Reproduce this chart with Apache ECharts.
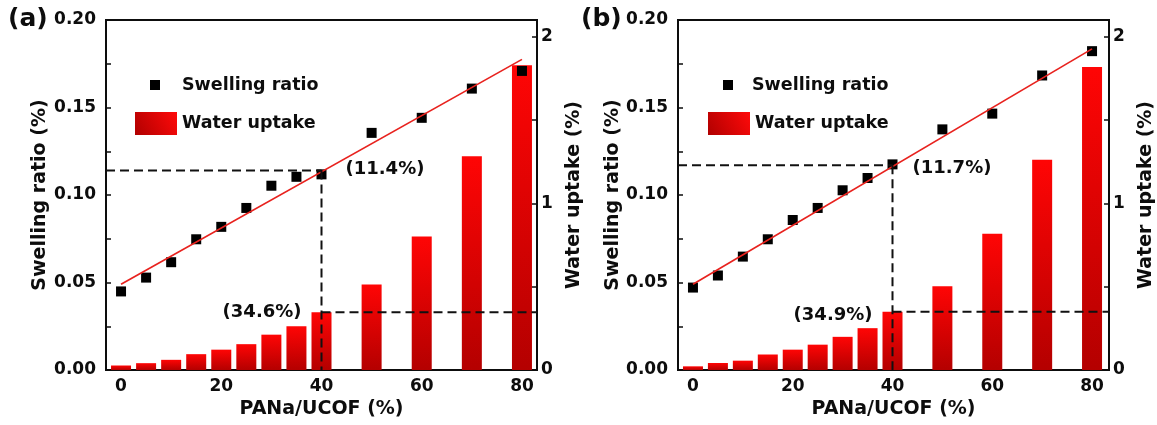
<!DOCTYPE html>
<html>
<head>
<meta charset="utf-8">
<script src="https://cdn.jsdelivr.net/npm/echarts@6/dist/echarts.min.js"></script>
<style>
html,body{margin:0;padding:0;background:#fff;}
#c{width:1157px;height:425px;}
</style>
</head>
<body>
<div id="c"></div>
<script>
// ---- data ----
const xVals = [0, 5, 10, 15, 20, 25, 30, 35, 40, 50, 60, 70, 80];
const swellA = [0.0449, 0.0528, 0.0616, 0.0747, 0.0818, 0.0926, 0.1053, 0.1104, 0.1118, 0.1355, 0.1441, 0.1608, 0.1709];
const uptakeA = [0.027, 0.041, 0.061, 0.095, 0.122, 0.155, 0.212, 0.262, 0.346, 0.513, 0.801, 1.282, 1.828];
const swellB = [0.0471, 0.0540, 0.0648, 0.0747, 0.0857, 0.0926, 0.1027, 0.1097, 0.1175, 0.1375, 0.1465, 0.1683, 0.1822];
const uptakeB = [0.022, 0.042, 0.056, 0.093, 0.122, 0.152, 0.199, 0.251, 0.349, 0.502, 0.818, 1.262, 1.818];
const fitX = [0, 80];
const fitA = [0.049, 0.1775];
const fitB = [0.049, 0.1835];
const markX = 40;
const swellMarkA = 0.114, uptakeMarkA = 0.346;
const swellMarkB = 0.117, uptakeMarkB = 0.349;
const xTicks = [0, 20, 40, 60, 80];
const leftTicks = [0, 0.025, 0.05, 0.075, 0.1, 0.125, 0.15, 0.175, 0.2];
const rightLabels = [0, 1, 2];
const rightTicks = [0, 0.5, 1, 1.5, 2];
const panelLabels = ['(a)', '(b)'];

const FONT = '"DejaVu Sans", Verdana, sans-serif';
const INK = '#0d0d0d';
const chart = echarts.init(document.getElementById('c'), null, {renderer: 'canvas'});

const barColor = new echarts.graphic.LinearGradient(0, 0, 0, 1, [
  {offset: 0, color: '#ff0505'},
  {offset: 1, color: '#b40000'}
]);
const legendColor = new echarts.graphic.LinearGradient(1, 0, 0, 1, [
  {offset: 0, color: '#ff0a0a'},
  {offset: 1, color: '#b00000'}
]);

const grids = [
  {left: 106, top: 20, width: 431, height: 350},
  {left: 678, top: 20, width: 433, height: 350}
];
const xRange = [[-3, 83], [-3, 83.4]];

function pairs(xs, ys) { return xs.map((x, i) => [x, ys[i]]); }

const xAxis = [], yAxis = [], series = [], legend = [], title = [];
const panels = [
  {swell: swellA, uptake: uptakeA, fit: fitA, sm: swellMarkA, um: uptakeMarkA},
  {swell: swellB, uptake: uptakeB, fit: fitB, sm: swellMarkB, um: uptakeMarkB}
];
const axisLineStyle = {show: true, onZero: false, lineStyle: {color: INK, width: 2}};

panels.forEach((p, k) => {
  xAxis.push({
    type: 'value', gridIndex: k, min: xRange[k][0], max: xRange[k][1],
    name: 'PANa/UCOF (%)', nameLocation: 'middle', nameGap: 30,
    nameTextStyle: {fontFamily: FONT, fontWeight: 'bold', fontSize: 19, color: INK},
    axisLine: axisLineStyle,
    axisTick: {show: false},
    splitLine: {show: false},
    axisLabel: {customValues: xTicks, margin: 8, fontFamily: FONT, fontWeight: 'bold', fontSize: 17, color: INK}
  });
  yAxis.push({
    type: 'value', gridIndex: k, position: 'left', min: 0, max: 0.2, interval: 0.05,
    name: 'Swelling ratio (%)', nameLocation: 'middle', nameGap: k === 0 ? 56 : 54, nameRotate: 90,
    nameTextStyle: {fontFamily: FONT, fontWeight: 'bold', fontSize: 19, color: INK},
    axisLine: axisLineStyle,
    axisTick: {show: true, inside: true, length: 5, customValues: leftTicks, lineStyle: {color: INK, width: 1.5}},
    splitLine: {show: false},
    axisLabel: {margin: 10, formatter: v => v.toFixed(2), fontFamily: FONT, fontWeight: 'bold', fontSize: 17, color: INK}
  });
  yAxis.push({
    type: 'value', gridIndex: k, position: 'right', min: 0, max: 2.1,
    name: 'Water uptake (%)', nameLocation: 'middle', nameGap: 28, nameRotate: 90,
    nameTextStyle: {fontFamily: FONT, fontWeight: 'bold', fontSize: 19, color: INK},
    axisLine: axisLineStyle,
    axisTick: {show: true, inside: true, length: 5, customValues: rightTicks, lineStyle: {color: INK, width: 1.5}},
    splitLine: {show: false},
    axisLabel: {customValues: rightLabels, margin: 4, fontFamily: FONT, fontWeight: 'bold', fontSize: 17, color: INK}
  });
  const yl = 2 * k, yr = 2 * k + 1;
  series.push({
    type: 'bar', name: 'Water uptake', xAxisIndex: k, yAxisIndex: yr,
    data: pairs(xVals, p.uptake), barWidth: 20, z: 2,
    itemStyle: {color: barColor}
  });
  series.push({
    type: 'line', name: 'fit', xAxisIndex: k, yAxisIndex: yl,
    data: pairs(fitX, p.fit), symbol: 'none', z: 4,
    lineStyle: {color: '#e8221e', width: 1.7}
  });
  series.push({
    type: 'scatter', name: 'Swelling ratio', xAxisIndex: k, yAxisIndex: yl,
    data: pairs(xVals, p.swell), symbol: 'rect', symbolSize: 10, z: 3,
    itemStyle: {color: '#000', opacity: 1}
  });
  const dash = {color: '#111', width: 2, type: [9, 5]};
  series.push({
    type: 'line', name: 'guideH1', xAxisIndex: k, yAxisIndex: yl, symbol: 'none', z: 5,
    data: [[xRange[k][0], p.sm], [markX, p.sm]], lineStyle: dash, silent: true
  });
  series.push({
    type: 'line', name: 'guideV', xAxisIndex: k, yAxisIndex: yl, symbol: 'none', z: 5,
    data: [[markX, p.sm], [markX, 0]], lineStyle: dash, silent: true
  });
  series.push({
    type: 'line', name: 'guideH2', xAxisIndex: k, yAxisIndex: yr, symbol: 'none', z: 5,
    data: [[markX, p.um], [xRange[k][1], p.um]], lineStyle: dash, silent: true
  });
  series.push({
    type: 'scatter', name: 'noteSwell', xAxisIndex: k, yAxisIndex: yl, symbolSize: 0, z: 6, silent: true,
    itemStyle: {opacity: 1},
    data: [[markX, p.sm]],
    label: {show: true, position: 'right', distance: k === 0 ? 24 : 20, offset: [0, k === 0 ? -1 : 3],
      formatter: () => '(' + (p.sm * 100).toFixed(1) + '%)',
      fontFamily: FONT, fontWeight: 'bold', fontSize: 18, color: INK}
  });
  series.push({
    type: 'scatter', name: 'noteUptake', xAxisIndex: k, yAxisIndex: yr, symbolSize: 0, z: 6, silent: true,
    itemStyle: {opacity: 1},
    data: [[markX, p.um]],
    label: {show: true, position: 'left', distance: 20, offset: [0, k === 0 ? 0 : 3],
      formatter: () => '(' + (p.um * 100).toFixed(1) + '%)',
      fontFamily: FONT, fontWeight: 'bold', fontSize: 18, color: INK}
  });
  const lx = k === 0 ? [145, 130] : [718, 703];
  legend.push({
    data: [{name: 'Swelling ratio', icon: 'rect'}], left: lx[0], top: 71, itemWidth: 10, itemHeight: 10, selectedMode: false,
    textStyle: {fontFamily: FONT, fontWeight: 'bold', fontSize: 17.5, color: INK, padding: [0, 0, 0, k === 0 ? 17 : 14]}
  });
  legend.push({
    data: [{name: 'Water uptake', icon: 'rect', itemStyle: {color: legendColor}}], left: lx[1], top: 107, itemWidth: 42, itemHeight: 23, selectedMode: false,
    textStyle: {fontFamily: FONT, fontWeight: 'bold', fontSize: 17.5, color: INK}
  });
  title.push({
    text: panelLabels[k], left: k === 0 ? 3 : 576, top: 2,
    textStyle: {fontFamily: FONT, fontWeight: 'bold', fontSize: 25, color: INK}
  });
});

chart.setOption({
  animation: false,
  backgroundColor: '#fff',
  title: title,
  grid: grids.map(g => Object.assign({show: true, borderColor: INK, borderWidth: 2, backgroundColor: 'transparent'}, g)),
  legend: legend,
  xAxis: xAxis,
  yAxis: yAxis,
  series: series
});
</script>
</body>
</html>
